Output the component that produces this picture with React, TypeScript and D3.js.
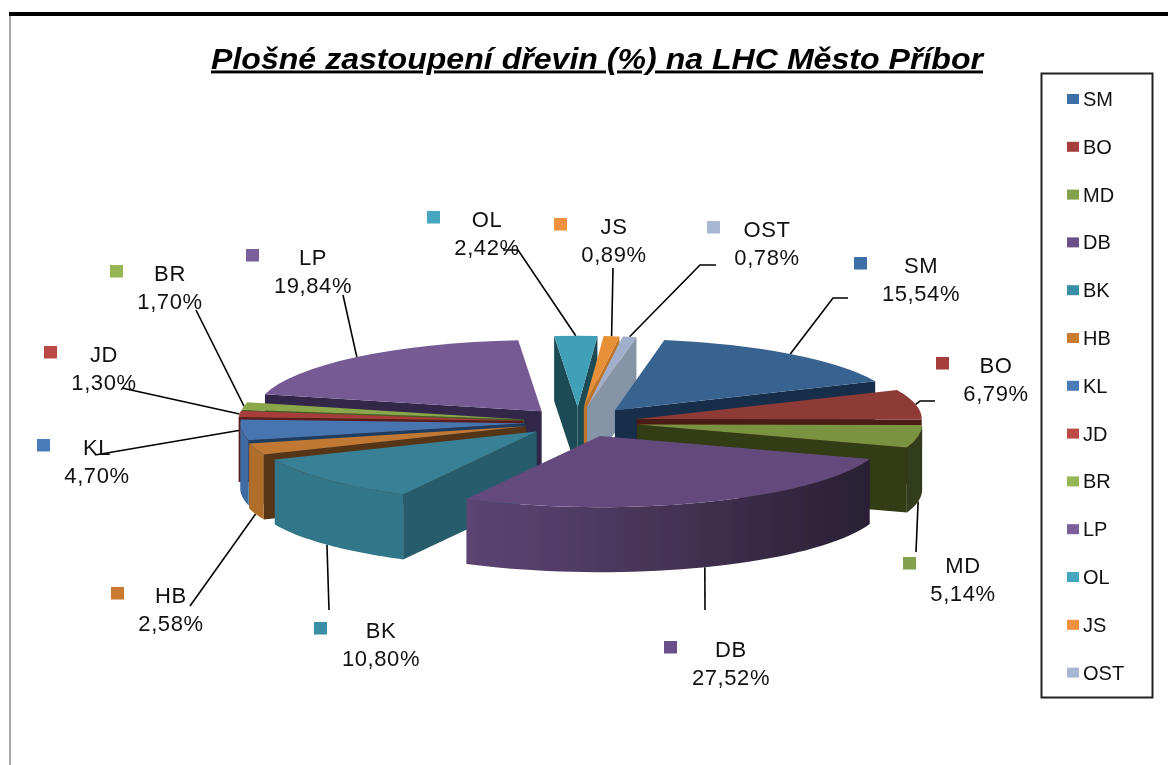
import React from 'react';
import * as d3 from 'd3';

const species = ['SM', 'BO', 'MD', 'DB', 'BK', 'HB', 'KL', 'JD', 'BR', 'LP', 'OL', 'JS', 'OST'];
const shares = [15.54, 6.79, 5.14, 27.52, 10.8, 2.58, 4.7, 1.3, 1.7, 19.84, 2.42, 0.89, 0.78];
const shareLabels = ['15,54%', '6,79%', '5,14%', '27,52%', '10,80%', '2,58%', '4,70%', '1,30%', '1,70%', '19,84%', '2,42%', '0,89%', '0,78%'];

const topColors = ['#376290', '#8e3a38', '#7a9340', '#634a7c', '#378096', '#c07830', '#4674b0', '#a83d3a', '#8aa84a', '#755a94', '#40a0b8', '#e89038', '#a0b0cc'];
const cutColors = ['#162d48', '#4b1b19', '#333c19', '#2c2238', '#265c6c', '#553414', '#1f3c60', '#5a1c1a', '#4a5c22', '#33264a', '#1f4c56', '#c07428', '#8694a8'];
const legendColors = ['#3e6fa6', '#a63f3c', '#83a04a', '#6a5089', '#3a8ea6', '#cb7a32', '#4a7cba', '#bb4a47', '#96b653', '#7a5f9c', '#46a6c0', '#f0913f', '#a8b8d4'];

// explosion of each slice away from the pie centre
const explode = [60, 60, 60, 60, 56, 55, 53, 55, 55, 56, 60, 60, 60];

// label centre x and first baseline
const labelX = [921, 996, 963, 731, 381, 171, 97, 104, 170, 313, 487, 614, 767];
const labelY = [273, 373, 573, 657, 638, 603, 455, 362, 281, 265, 227, 234, 237];
// extra leader point, next to the label
const leaderEnds: [number, number][][] = [
  [[848, 298], [833, 298]],
  [[935, 401], [920, 401]],
  [[916, 552]],
  [[705, 610]],
  [[329, 610]],
  [[190, 606]],
  [[95, 455]],
  [[122, 388]],
  [[196, 310]],
  [[343, 295]],
  [[503, 250], [518, 250]],
  [[613, 268]],
  [[716, 265], [700, 265]],
];

const cx = 578;
const cy = 422;
const R = 285;
const squash = 0.25;
const depth = 65;
const FONT = '"Liberation Sans", Arial, sans-serif';

const pie = d3
  .pie<number>()
  .sort(null)
  .value((d) => d)
  .startAngle((10 * Math.PI) / 180)
  .endAngle((370 * Math.PI) / 180);

const arc = d3.arc<d3.PieArcDatum<number>>().innerRadius(0).outerRadius(R);
const poly = d3.line();

// light falls from the left, the outer wall gets dark towards the right
function wallShade(angle: number) {
  const t = Math.sin(angle);
  return t < -0.4 ? 0.92 : 0.92 - ((t + 0.4) / 1.35) * 0.5;
}

export default function App() {
  const slices = pie(shares).map((d, i) => {
    const mid = (d.startAngle + d.endAngle) / 2;
    const ax = cx + explode[i] * Math.sin(mid);
    const ay = cy - explode[i] * Math.cos(mid) * squash;
    const rim = (a: number): [number, number] => [ax + R * Math.sin(a), ay - R * squash * Math.cos(a)];
    return { d, i, mid, ax, ay, rim };
  });

  const order = [...slices].sort((a, b) => Math.cos(b.mid) - Math.cos(a.mid));

  const cutFace = (s: (typeof slices)[number], a: number) => {
    const p = s.rim(a);
    return poly([[s.ax, s.ay], p, [p[0], p[1] + depth], [s.ax, s.ay + depth]]) + 'Z';
  };

  return (
    <svg width={1168} height={765} style={{ position: 'fixed', left: 0, top: 0, background: '#fff' }} fontFamily={FONT}>
      <defs>
        <filter id="soft" x="-5%" y="-5%" width="110%" height="110%">
          <feGaussianBlur stdDeviation="0.5" />
        </filter>
        {slices.map((s) => {
          const a0 = Math.max(s.d.startAngle, Math.PI / 2);
          const a1 = Math.min(s.d.endAngle, (3 * Math.PI) / 2);
          if (a1 <= a0) return null;
          const angles = d3.range(9).map((k) => a0 + ((a1 - a0) * k) / 8);
          const x0 = s.rim(a0)[0];
          const x1 = s.rim(a1)[0];
          return (
            <linearGradient key={s.i} id={`wall${s.i}`} gradientUnits="userSpaceOnUse" x1={x0} x2={x1 === x0 ? x0 + 1 : x1} y1={0} y2={0}>
              {angles.map((a, k) => {
                const x = s.rim(a)[0];
                return (
                  <stop
                    key={k}
                    offset={(x - x0) / (x1 - x0 || 1)}
                    stopColor={d3.interpolateRgb('#000', topColors[s.i])(wallShade(a))}
                  />
                );
              })}
            </linearGradient>
          );
        })}
      </defs>

      {/* page frame */}
      <rect x={9} y={12} width={2} height={753} fill="#a8a8a8" />
      <rect x={9} y={12} width={1159} height={4} fill="#000" />

      <text
        x={597}
        y={68.5}
        textAnchor="middle"
        fontSize={29}
        fontWeight="bold"
        fontStyle="italic"
        textDecoration="underline"
        fill="#000"
        textLength={772}
        lengthAdjust="spacingAndGlyphs"
        filter="url(#soft)"
      >
        Plošné zastoupení dřevin (%) na LHC Město Příbor
      </text>

      {/* leader lines go under the pie edge */}
      <g fill="none" stroke="#000" strokeWidth={1.6}>
        {slices.map((s) => {
          const p = s.rim(s.mid);
          const front = Math.cos(s.mid) < -0.12;
          const end: [number, number] = [p[0], front ? p[1] + depth : p[1]];
          return <path key={s.i} d={poly([...leaderEnds[s.i], end]) ?? ''} />;
        })}
      </g>

      <g filter="url(#soft)">
        {order.map((s) => {
          const a0 = Math.max(s.d.startAngle, Math.PI / 2);
          const a1 = Math.min(s.d.endAngle, (3 * Math.PI) / 2);
          let wall = '';
          if (a1 > a0) {
            const angles = d3.range(41).map((k) => a0 + ((a1 - a0) * k) / 40);
            const upper = angles.map((a) => s.rim(a));
            const lower = upper.map(([x, y]) => [x, y + depth] as [number, number]).reverse();
            wall = poly([...upper, ...lower]) + 'Z';
          }
          return (
            <g key={s.i}>
              {Math.sin(s.d.startAngle) < 0 && <path d={cutFace(s, s.d.startAngle)} fill={cutColors[s.i]} />}
              {Math.sin(s.d.endAngle) > 0 && <path d={cutFace(s, s.d.endAngle)} fill={cutColors[s.i]} />}
              {wall && <path d={wall} fill={`url(#wall${s.i})`} />}
              <path
                d={arc(s.d) ?? ''}
                transform={`translate(${s.ax},${s.ay}) scale(1,${squash})`}
                fill={topColors[s.i]}
              />
            </g>
          );
        })}
      </g>

      {/* data labels */}
      <g fontSize={22} letterSpacing={0.6} fill="#111" textAnchor="middle">
        {species.map((name, i) => (
          <g key={name}>
            <rect
              x={labelX[i] - (shareLabels[i].length === 6 ? 67 : 60)}
              y={labelY[i] - 16}
              width={13}
              height={12.5}
              fill={legendColors[i]}
            />
            <text x={labelX[i]} y={labelY[i]}>
              {name}
            </text>
            <text x={labelX[i]} y={labelY[i] + 27.5}>
              {shareLabels[i]}
            </text>
          </g>
        ))}
      </g>

      {/* legend */}
      <rect x={1041.5} y={73.5} width={111} height={624} fill="#fff" stroke="#222" strokeWidth={2} />
      <g fontSize={20} fill="#111">
        {species.map((name, i) => {
          const y = 99 + i * 47.8;
          return (
            <g key={name}>
              <rect x={1067} y={y - 5} width={12} height={10} fill={legendColors[i]} />
              <text x={1083} y={y + 7}>
                {name}
              </text>
            </g>
          );
        })}
      </g>
    </svg>
  );
}
